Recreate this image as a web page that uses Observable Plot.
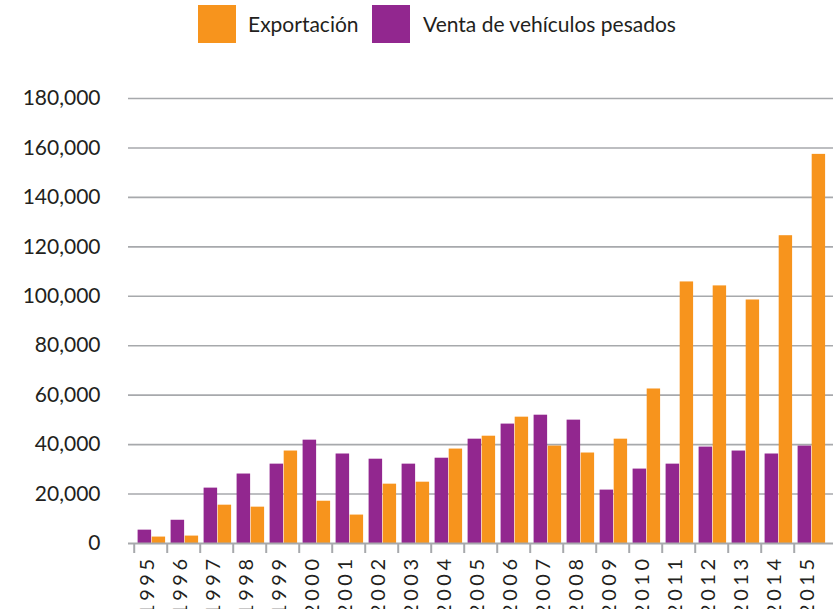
<!DOCTYPE html>
<html>
<head>
<meta charset="utf-8">
<script src="https://cdn.jsdelivr.net/npm/d3@7"></script>
<script src="https://cdn.jsdelivr.net/npm/@observablehq/plot@0.6"></script>
<style>
html, body { margin: 0; padding: 0; overflow: hidden; background: #fff; width: 833px; height: 609px; font-family: Lato, "Noto Sans", sans-serif; }
#legend { position: relative; height: 50px; }
.sw { position: absolute; top: 5px; width: 38px; height: 38px; }
.lt { position: absolute; top: 0; line-height: 48px; font-size: 21px; color: #231f20; white-space: nowrap; }
#chart svg { display: block; }
</style>
</head>
<body>
<div id="legend"></div>
<div id="chart"></div>
<script>
const years = ["1995","1996","1997","1998","1999","2000","2001","2002","2003","2004","2005","2006","2007","2008","2009","2010","2011","2012","2013","2014","2015"];
const venta = [5400, 9400, 22400, 28100, 32100, 41800, 36200, 34100, 32100, 34500, 42200, 48300, 51900, 49900, 21600, 30100, 32100, 39000, 37400, 36200, 39400];
const exportacion = [2600, 3000, 15500, 14700, 37400, 17100, 11500, 24000, 24800, 38200, 43400, 51100, 39400, 36600, 42200, 62500, 105800, 104200, 98500, 124500, 157400];
const yTicks = [0, 20000, 40000, 60000, 80000, 100000, 120000, 140000, 160000, 180000];
const seriesNames = ["Exportación", "Venta de vehículos pesados"];
const seriesColors = ["#F7941D", "#92278F"];

// legend
const legend = document.getElementById("legend");
const legendPos = [[198, 248], [372, 423]];
seriesNames.forEach((name, i) => {
  const sw = document.createElement("div");
  sw.className = "sw";
  sw.style.left = legendPos[i][0] + "px";
  sw.style.background = seriesColors[i];
  legend.appendChild(sw);
  const t = document.createElement("div");
  t.className = "lt";
  t.style.left = legendPos[i][1] + "px";
  t.textContent = name;
  legend.appendChild(t);
});

const W = 833, H = 559, mL = 128, mR = 0, mT = 48, mB = 66;
const step = (W - mL - mR) / years.length;
const rows = years.map((y, i) => ({year: y, venta: venta[i], exportacion: exportacion[i]}));

const chart = Plot.plot({
  width: W,
  height: H,
  marginLeft: mL,
  marginRight: mR,
  marginTop: mT,
  marginBottom: mB,
  style: {fontFamily: "Lato, 'Noto Sans', sans-serif", fontSize: "21px", color: "#231f20", background: "#fff", overflow: "visible"},
  x: {type: "band", domain: years, padding: 0},
  y: {domain: [0, 180000]},
  marks: [
    Plot.ruleY(yTicks.filter(v => v > 0), {stroke: "#a7a9ac", strokeWidth: 1.6}),
    Plot.barY(rows, {x: "year", y: "venta", fill: seriesColors[1], insetLeft: 3.6, insetRight: step / 2 - 0.9}),
    Plot.barY(rows, {x: "year", y: "exportacion", fill: seriesColors[0], insetLeft: step / 2 + 0.9, insetRight: 1.9}),
    Plot.ruleY([0], {stroke: "#a7a9ac", strokeWidth: 2}),
    Plot.axisX({tickSize: 10, tickFormat: () => "", dx: -step / 2, stroke: "#a7a9ac", strokeWidth: 2, label: null}),
    Plot.axisX({tickSize: 0, tickPadding: 12, tickRotate: -90, dx: -3, label: null, fill: "#231f20", fontSize: 20}),
    Plot.axisY({ticks: yTicks, tickSize: 0, tickPadding: 28, tickFormat: d3.format(","), label: null, fill: "#231f20", fontSize: 21})
  ]
});
d3.select(chart).selectAll("text")
  .filter(function() { return /^\d{4}$/.test(this.textContent.trim()); })
  .style("font-size", "20px")
  .style("letter-spacing", "3.5px");
document.getElementById("chart").appendChild(chart);
</script>
</body>
</html>
